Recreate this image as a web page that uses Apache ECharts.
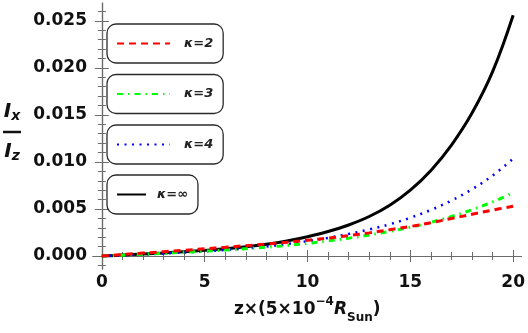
<!DOCTYPE html>
<html>
<head>
<meta charset="utf-8">
<script src="https://cdn.jsdelivr.net/npm/echarts@6/dist/echarts.min.js"></script>
<style>
  html, body { margin: 0; padding: 0; background: #fff; }
  #chart { width: 528px; height: 333px; }
</style>
</head>
<body>
<div id="chart"></div>
<script>
// z in units of 5e-4 R_Sun
const zValues = [0, 1, 2, 3, 4, 5, 6, 7, 8, 9, 10, 11, 12, 13, 14, 15, 16, 17, 18, 19, 20];

// I_x / I_z for each kappa
const kappa2 = [0, 0.00015, 0.00031, 0.00046, 0.00061, 0.00077, 0.00093, 0.0011, 0.00128, 0.00147, 0.00168,
    0.00191, 0.00217, 0.00246, 0.0028, 0.00314, 0.00354, 0.00399, 0.00444, 0.00488, 0.0053];
const kappa3 = [0, 0.00009, 0.00019, 0.00029, 0.0004, 0.00052, 0.00064, 0.00078, 0.00094, 0.00112, 0.00134,
    0.0016, 0.0019, 0.00224, 0.00262, 0.00306, 0.00358, 0.0042, 0.00492, 0.00575, 0.00672];
const kappa4 = [0, 0.00008, 0.00017, 0.00027, 0.00038, 0.0005, 0.00064, 0.00081, 0.00102, 0.00127, 0.00157,
    0.00193, 0.00235, 0.00282, 0.00338, 0.00407, 0.0049, 0.0059, 0.0071, 0.00855, 0.01035];
const kappaInf = [0, 0.0001, 0.00021, 0.00033, 0.00046, 0.0006, 0.00077, 0.00098, 0.00125, 0.0016, 0.00205,
    0.0026, 0.0033, 0.0042, 0.0054, 0.007, 0.0091, 0.0118, 0.0152, 0.0196, 0.0256];

const seriesNames = ['κ=2', 'κ=3', 'κ=4', 'κ=∞'];

const xMajorTicks = [0, 5, 10, 15, 20];
const xMinorTicks = [1, 2, 3, 4, 6, 7, 8, 9, 11, 12, 13, 14, 16, 17, 18, 19];
const yMajorTicks = [0, 0.005, 0.01, 0.015, 0.02, 0.025];
const yMinorTicks = [-0.001, 0.001, 0.002, 0.003, 0.004, 0.006, 0.007, 0.008, 0.009, 0.011, 0.012, 0.013,
    0.014, 0.016, 0.017, 0.018, 0.019, 0.021, 0.022, 0.023, 0.024, 0.026];

const FONT = '"DejaVu Sans", Verdana, sans-serif';
const frameColor = '#6b6b6b';
const ink = '#111';

const X_MIN = -0.43, X_MAX = 20.4;
const Y_MIN = -0.00138, Y_MAX = 0.0269;

function frameAxis(position, min, max, ticks, tickLen, withLine, label) {
    return {
        type: 'value',
        position: position,
        min: min,
        max: max,
        axisLine: { show: withLine, lineStyle: { color: frameColor, width: 1.2 } },
        axisTick: { show: true, inside: true, length: tickLen, customValues: ticks,
            lineStyle: { color: frameColor, width: 1 } },
        axisLabel: label ? label : { show: false },
        splitLine: { show: false }
    };
}

const xLabel = {
    show: true, customValues: xMajorTicks, margin: 5,
    color: ink, fontFamily: FONT, fontWeight: 'bold', fontSize: 17
};
const yLabel = {
    show: true, customValues: yMajorTicks, margin: 6,
    color: ink, fontFamily: FONT, fontWeight: 'bold', fontSize: 17,
    formatter: v => v.toFixed(3)
};

const xMain = frameAxis('bottom', X_MIN, X_MAX, xMajorTicks, 6, true, xLabel);
xMain.name = '{b|z×(5×10}{sup|−4}{it|R}{sub|Sun}{b|)}';
xMain.nameLocation = 'middle';
xMain.nameGap = 41;
xMain.nameTextStyle = {
    align: 'center', verticalAlign: 'middle',
    rich: {
        b: { fontFamily: FONT, fontWeight: 'bold', fontSize: 17, color: ink, lineHeight: 28 },
        it: { fontFamily: FONT, fontWeight: 'bold', fontStyle: 'italic', fontSize: 17, color: ink, lineHeight: 28 },
        sup: { fontFamily: FONT, fontWeight: 'bold', fontSize: 12, color: ink, lineHeight: 14, verticalAlign: 'top' },
        sub: { fontFamily: FONT, fontWeight: 'bold', fontSize: 12, color: ink, lineHeight: 14, verticalAlign: 'bottom' }
    }
};

const yMain = frameAxis('left', Y_MIN, Y_MAX, yMajorTicks, 7, true, yLabel);
yMain.name = '{i|I}{s|x}\n{bar| }\n{i|I}{s|z}';
yMain.nameLocation = 'middle';
yMain.nameRotate = 0;
yMain.nameGap = 81;
yMain.nameTextStyle = {
    align: 'center', verticalAlign: 'middle', padding: [0, 0, 8, 0],
    rich: {
        i: { fontFamily: FONT, fontWeight: 'bold', fontStyle: 'italic', fontSize: 20, color: ink, lineHeight: 22 },
        s: { fontFamily: FONT, fontWeight: 'bold', fontStyle: 'italic', fontSize: 14, color: ink, lineHeight: 14, verticalAlign: 'bottom' },
        bar: { width: 18, height: 2.5, lineHeight: 18, backgroundColor: ink }
    }
};

const xAxes = [
    xMain,
    frameAxis('bottom', X_MIN, X_MAX, xMinorTicks, 4, false),
    frameAxis('top', X_MIN, X_MAX, xMajorTicks, 6, true),
    frameAxis('top', X_MIN, X_MAX, xMinorTicks, 4, false)
];
const yAxes = [
    yMain,
    frameAxis('left', Y_MIN, Y_MAX, yMinorTicks, 4, false),
    frameAxis('right', Y_MIN, Y_MAX, yMajorTicks, 7, true),
    frameAxis('right', Y_MIN, Y_MAX, yMinorTicks, 4, false)
];

function pairs(values) {
    return zValues.map((z, i) => [z, values[i]]);
}

function curve(name, values, color, width, dash) {
    return {
        name: name,
        type: 'line',
        xAxisIndex: 0,
        yAxisIndex: 0,
        data: pairs(values),
        smooth: 0.4,
        symbol: 'none',
        showSymbol: false,
        lineStyle: { color: color, width: width, type: dash, cap: 'butt' },
        itemStyle: { color: color },
        emphasis: { disabled: true }
    };
}

// one framed legend box per curve, like the original
function legendBox(name, top, iconWidth, textGap) {
    return {
        data: [name],
        left: 107,
        top: top,
        orient: 'vertical',
        padding: [13, 10, 13, 9],
        itemWidth: iconWidth,
        itemHeight: 14,
        borderColor: '#2a2a2a',
        borderWidth: 1.3,
        borderRadius: 9,
        selectedMode: false,
        itemStyle: { opacity: 0, borderWidth: 0 },
        textStyle: {
            fontFamily: FONT, fontWeight: 'bold', fontStyle: 'italic', fontSize: 13,
            color: '#222', padding: [0, 0, 0, textGap]
        }
    };
}

const option = {
    animation: false,
    backgroundColor: '#fff',
    grid: { left: 93, right: 3, top: 3, bottom: 64 },
    legend: [
        legendBox(seriesNames[0], 24, 53, 9),
        legendBox(seriesNames[1], 74.5, 53, 9),
        legendBox(seriesNames[2], 125, 53, 9),
        legendBox(seriesNames[3], 175, 29, 6)
    ],
    xAxis: xAxes,
    yAxis: yAxes,
    series: [
        curve(seriesNames[3], kappaInf, '#000000', 3, 'solid'),
        curve(seriesNames[2], kappa4, '#0000ff', 2.5, [2, 5.5]),
        curve(seriesNames[1], kappa3, '#00ff00', 3, [6, 5, 1.5, 5]),
        curve(seriesNames[0], kappa2, '#ff0000', 3, [7, 5])
    ]
};

const chart = echarts.init(document.getElementById('chart'));
chart.setOption(option);
</script>
</body>
</html>
